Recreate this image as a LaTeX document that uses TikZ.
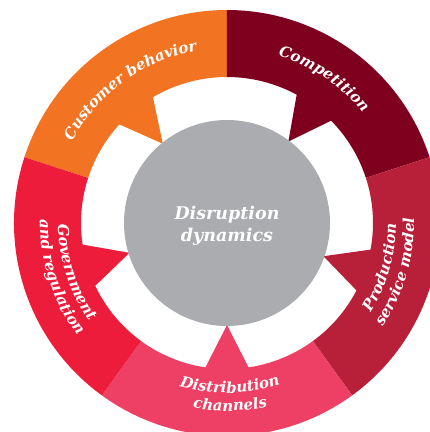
\documentclass[tikz,border=0pt]{standalone}
\usepackage{fontspec}
\usepackage{tikz}
\usetikzlibrary{decorations.text}
\newfontfamily\wheelfont{DejaVu Serif}

\begin{document}
\begin{tikzpicture}[x=1pt, y=1pt,
    ringtext/.style={decorate, decoration={text along path, text align=center,
        text color=white, text={|\wheelfont\bfseries\itshape\fontsize{15}{18}\selectfont|#1}}}]
            % colours taken from the original wheel
            \definecolor{color1}{HTML}{F27321}
            \definecolor{color2}{HTML}{7F001E}
            \definecolor{color3}{HTML}{B8203A}
            \definecolor{color4}{HTML}{EE4064}
            \definecolor{color5}{HTML}{EE1C3B}
            \definecolor{color6}{HTML}{ABACB0}
            \useasboundingbox (-227,-209) rectangle (203,223);
            \clip (-227,-209) rectangle (203,223);
            % start angle / pointer angle / colour of each segment
            \foreach \s/\m/\col in {90/129/color1, 18/53/color2, -54/-19/color3, -126/-90/color4, 162/197/color5}{
                \fill[\col] ({\s}:213) arc[start angle=\s, end angle=\s+72, radius=213]
                    -- ({\s+72}:146) arc[start angle=\s+72, end angle=\m+8.5, radius=146]
                    -- ({\m}:102) -- ({\m-8.5}:146)
                    arc[start angle=\m-8.5, end angle=\s, radius=146] -- cycle;
            }
            \node[circle, fill=color6, minimum size=206pt, inner sep=0pt] (core) at (0,0) {};
            \node[align=center, text=white, font=\wheelfont\bfseries\itshape\fontsize{17.5}{22}\selectfont]
                (title) at (0,-3) {Disruption\\dynamics};
            % labels along the ring
            \path[ringtext=Customer behavior] (176:175) arc[start angle=176, end angle=76, radius=175];
            \path[ringtext=Competition] (106:175) arc[start angle=106, end angle=6, radius=175];
            \path[ringtext=Production] (-66:169) arc[start angle=-66, end angle=34, radius=169];
            \path[ringtext=service model] (-66:187) arc[start angle=-66, end angle=34, radius=187];
            \path[ringtext=Distribution] (221:170) arc[start angle=221, end angle=321, radius=170];
            \path[ringtext=channels] (221:188) arc[start angle=221, end angle=321, radius=188];
            \path[ringtext=Government] (148:169) arc[start angle=148, end angle=248, radius=169];
            \path[ringtext=and regulation] (148:187) arc[start angle=148, end angle=248, radius=187];
        \end{tikzpicture}
\end{document}
